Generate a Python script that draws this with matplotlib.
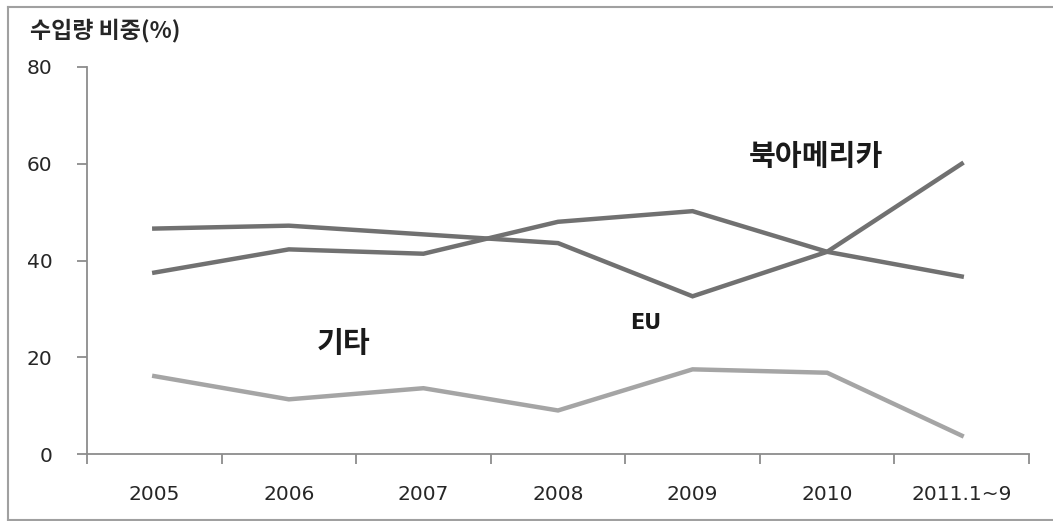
import matplotlib
matplotlib.use("Agg")
import matplotlib.pyplot as plt
from matplotlib.lines import Line2D
import numpy as np

plt.rcParams['font.family'] = ['Noto Sans CJK KR', 'DejaVu Sans']

years = ['2005', '2006', '2007', '2008', '2009', '2010', '2011.1~9']
north_america = [46.6, 47.2, 45.4, 43.6, 32.6, 41.8, 60.0]
eu = [37.5, 42.3, 41.4, 48.0, 50.2, 41.8, 36.7]
others = [16.1, 11.3, 13.6, 9.0, 17.5, 16.8, 3.8]

W, H = 1053, 521
fig = plt.figure(figsize=(W / 100, H / 100), dpi=100)
ax = fig.add_axes([87 / W, (H - 454) / H, (1029 - 87) / W, (454 - 67) / H])

x = np.arange(len(years))
ax.plot(x, north_america, color='#717171', lw=3.2, solid_joinstyle='miter')
ax.plot(x, eu, color='#717171', lw=3.2, solid_joinstyle='miter')
ax.plot(x, others, color='#a5a5a5', lw=3.2, solid_joinstyle='miter')

ax.set_xlim(-0.5, len(years) - 0.5)
ax.set_ylim(0, 80)
ax.set_yticks([0, 20, 40, 60, 80])

ax.set_xticks(x)
ax.set_xticklabels(years, fontsize=14.5, color='#262626', family='DejaVu Sans')
ax.set_xticks(np.arange(len(years) + 1) - 0.5, minor=True)
ax.tick_params(axis='x', which='major', length=0, pad=22)
ax.tick_params(axis='x', which='minor', length=7, width=1.3, color='#8c8c8c', direction='out')
ax.tick_params(axis='y', length=7, width=1.3, color='#8c8c8c', direction='out',
               labelsize=14.5, labelcolor='#262626', pad=18)
for lab in ax.get_yticklabels():
    lab.set_family('DejaVu Sans')

for s in ['top', 'right']:
    ax.spines[s].set_visible(False)
for s in ['left', 'bottom']:
    ax.spines[s].set_color('#8c8c8c')
    ax.spines[s].set_linewidth(1.3)

ax.text(4.92, 61.7, '북아메리카', fontsize=21, fontweight='bold', ha='center', va='center',
        color='#1a1a1a')
ax.text(1.41, 23.0, '기타', fontsize=21, fontweight='bold', ha='center', va='center',
        color='#1a1a1a')
ax.text(3.65, 27.1, 'EU', fontsize=15, fontweight='bold', ha='center', va='center',
        color='#1a1a1a', family='DejaVu Sans')

fig.text(30 / W, 1 - 30 / H, '수입량 비중(%)', fontsize=16.5, fontweight='bold',
         ha='left', va='center', color='#262626')

# outer frame (left, top, bottom)
fig.add_artist(Line2D([8 / W, 8 / W], [1 - 7 / H, 1 - 520 / H], transform=fig.transFigure,
                      color='#a0a0a0', lw=1.5))
fig.add_artist(Line2D([8 / W, 1.0], [1 - 7 / H, 1 - 7 / H], transform=fig.transFigure,
                      color='#a0a0a0', lw=1.5))
fig.add_artist(Line2D([8 / W, 1.0], [1 - 520 / H, 1 - 520 / H], transform=fig.transFigure,
                      color='#a0a0a0', lw=1.5))

fig.savefig('out.png', dpi=100)
